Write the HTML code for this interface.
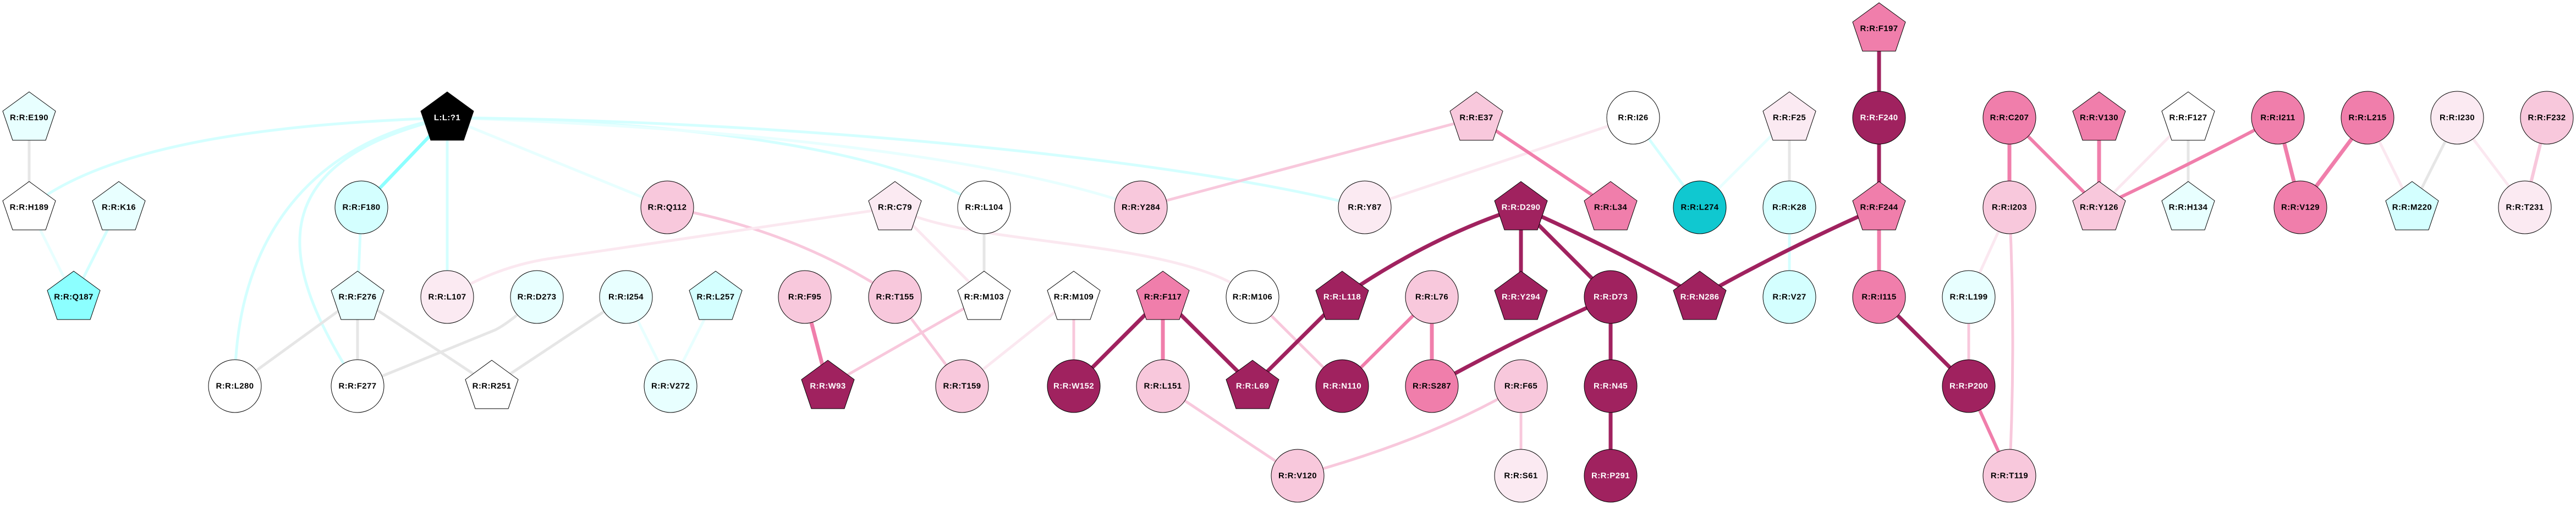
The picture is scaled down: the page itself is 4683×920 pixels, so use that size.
<!DOCTYPE html>
<html><head><meta charset="utf-8"><style>
html,body{margin:0;padding:0;background:#fff;}
svg{display:block;}
text{font-family:"Liberation Sans",sans-serif;font-weight:bold;font-size:15px;letter-spacing:0.4px;text-anchor:middle;dominant-baseline:central;}
</style></head><body>
<svg width="4683" height="920" viewBox="0 0 4683 920" xmlns="http://www.w3.org/2000/svg">
<defs>
<polygon id="pg" points="0,-47 48,-12 30,41 -30,41 -48,-12"/>
</defs>
<g fill="none" stroke-linecap="butt">
<!-- cyan edges -->
<path d="M813,214 C500,225 200,260 53,377" stroke="#d4ffff" stroke-width="5"/>
<path d="M813,214 C600,250 427,400 427,702" stroke="#d4ffff" stroke-width="5"/>
<path d="M813,214 C450,300 520,500 650,702" stroke="#d4ffff" stroke-width="5"/>
<path d="M813,214 L657,377" stroke="#8cffff" stroke-width="6"/>
<path d="M813,214 L813,540" stroke="#d4ffff" stroke-width="5"/>
<path d="M813,214 L1213,377" stroke="#e8ffff" stroke-width="5"/>
<path d="M813,214 C1200,220 1600,260 1789,377" stroke="#d4ffff" stroke-width="5"/>
<path d="M813,214 C1300,230 1800,280 2074,377" stroke="#e8ffff" stroke-width="5"/>
<path d="M813,214 C1500,220 2200,300 2481,377" stroke="#d4ffff" stroke-width="5"/>
<path d="M657,377 L650,540" stroke="#d4ffff" stroke-width="5"/>
<path d="M53,377 L134,540" stroke="#e8ffff" stroke-width="5"/>
<path d="M216,377 L134,540" stroke="#d4ffff" stroke-width="5"/>
<path d="M1138,540 L1219,702" stroke="#e8ffff" stroke-width="5"/>
<path d="M1301,540 L1219,702" stroke="#e8ffff" stroke-width="5"/>
<path d="M2969,214 L3090,377" stroke="#d4ffff" stroke-width="5"/>
<path d="M3253,214 L3090,377" stroke="#e8ffff" stroke-width="5"/>
<path d="M3253,377 L3253,540" stroke="#d4ffff" stroke-width="5"/>
<!-- gray edges -->
<path d="M53,214 L53,377" stroke="#e6e6e6" stroke-width="5"/>
<path d="M650,540 L427,702" stroke="#e6e6e6" stroke-width="5"/>
<path d="M650,540 L650,702" stroke="#e6e6e6" stroke-width="5"/>
<path d="M650,540 L894,702" stroke="#e6e6e6" stroke-width="5"/>
<path d="M650,702 L900,600 Q930,585 976,540" stroke="#e6e6e6" stroke-width="5"/>
<path d="M1138,540 L894,702" stroke="#e6e6e6" stroke-width="5"/>
<path d="M1789,377 L1789,540" stroke="#e6e6e6" stroke-width="5"/>
<path d="M3253,214 L3253,377" stroke="#e6e6e6" stroke-width="5"/>
<path d="M3978,214 L3978,377" stroke="#e6e6e6" stroke-width="5"/>
<path d="M4467,214 L4385,377" stroke="#e6e6e6" stroke-width="5"/>
<!-- pink edges -->
<path d="M1213,377 Q1450,420 1627,540" stroke="#f8c8dc" stroke-width="5"/>
<path d="M1627,377 L1000,470 Q900,485 813,540" stroke="#fbe8f0" stroke-width="5"/>
<path d="M1627,377 L1789,540" stroke="#fbe8f0" stroke-width="5"/>
<path d="M1627,377 C1750,450 2150,430 2277,540" stroke="#fbe8f0" stroke-width="5"/>
<path d="M1789,540 L1505,702" stroke="#f8c8dc" stroke-width="5"/>
<path d="M1627,540 L1749,702" stroke="#f8c8dc" stroke-width="5"/>
<path d="M1952,540 L1749,702" stroke="#fbe8f0" stroke-width="5"/>
<path d="M1952,540 L1952,702" stroke="#f8c8dc" stroke-width="5"/>
<path d="M1463,540 L1505,702" stroke="#f07eab" stroke-width="7"/>
<path d="M2114,540 L1952,702" stroke="#a0225f" stroke-width="7"/>
<path d="M2114,540 L2114,702" stroke="#f07eab" stroke-width="7"/>
<path d="M2114,540 L2277,702" stroke="#a0225f" stroke-width="7"/>
<path d="M2277,540 L2440,702" stroke="#f8c8dc" stroke-width="5"/>
<path d="M2440,540 L2277,702" stroke="#a0225f" stroke-width="7"/>
<path d="M2114,702 L2359,865" stroke="#f8c8dc" stroke-width="5"/>
<path d="M2074,377 L2684,214" stroke="#f8c8dc" stroke-width="5"/>
<path d="M2481,377 L2969,214" stroke="#fbe8f0" stroke-width="5"/>
<path d="M2684,214 L2928,377" stroke="#f07eab" stroke-width="6"/>
<path d="M2765,377 Q2600,430 2440,540" stroke="#a0225f" stroke-width="7"/>
<path d="M2765,377 L2765,540" stroke="#a0225f" stroke-width="7"/>
<path d="M2765,377 L2928,540" stroke="#a0225f" stroke-width="7"/>
<path d="M2765,377 Q2930,450 3090,540" stroke="#a0225f" stroke-width="7"/>
<path d="M2603,540 L2440,702" stroke="#f07eab" stroke-width="6"/>
<path d="M2603,540 L2603,702" stroke="#f07eab" stroke-width="7"/>
<path d="M2928,540 Q2750,620 2603,702" stroke="#a0225f" stroke-width="7"/>
<path d="M2928,540 L2928,865" stroke="#a0225f" stroke-width="7"/>
<path d="M2765,702 Q2600,800 2359,865" stroke="#f8c8dc" stroke-width="5"/>
<path d="M2765,702 L2765,865" stroke="#f8c8dc" stroke-width="5"/>
<path d="M3090,540 Q3250,450 3416,377" stroke="#a0225f" stroke-width="7"/>
<path d="M3416,52 L3416,377" stroke="#a0225f" stroke-width="7"/>
<path d="M3416,377 L3416,540" stroke="#f07eab" stroke-width="7"/>
<path d="M3416,540 L3579,702" stroke="#a0225f" stroke-width="7"/>
<path d="M3579,540 L3579,702" stroke="#f8c8dc" stroke-width="5"/>
<path d="M3579,702 L3653,865" stroke="#f07eab" stroke-width="6"/>
<path d="M3653,214 L3653,377" stroke="#f07eab" stroke-width="7"/>
<path d="M3653,214 L3816,377" stroke="#f07eab" stroke-width="6"/>
<path d="M3816,214 L3816,377" stroke="#f07eab" stroke-width="7"/>
<path d="M3653,377 L3579,540" stroke="#fbe8f0" stroke-width="5"/>
<path d="M3653,377 Q3665,620 3653,865" stroke="#f8c8dc" stroke-width="5"/>
<path d="M3978,214 L3816,377" stroke="#fbe8f0" stroke-width="5"/>
<path d="M4141,214 Q4000,290 3816,377" stroke="#f07eab" stroke-width="6"/>
<path d="M4141,214 L4182,377" stroke="#f07eab" stroke-width="7"/>
<path d="M4304,214 L4182,377" stroke="#f07eab" stroke-width="7"/>
<path d="M4304,214 L4385,377" stroke="#fbe8f0" stroke-width="5"/>
<path d="M4467,214 L4590,377" stroke="#fbe8f0" stroke-width="5"/>
<path d="M4630,214 L4590,377" stroke="#f8c8dc" stroke-width="6"/>
</g>
<g stroke="#000" stroke-width="1">
<!-- pentagons -->
<use href="#pg" x="813" y="214" fill="#000"/>
<use href="#pg" x="53" y="214" fill="#e8ffff"/>
<use href="#pg" x="53" y="377" fill="#fff"/>
<use href="#pg" x="216" y="377" fill="#e8ffff"/>
<use href="#pg" x="134" y="540" fill="#8cffff"/>
<use href="#pg" x="650" y="540" fill="#e8ffff"/>
<use href="#pg" x="894" y="702" fill="#fff"/>
<use href="#pg" x="1301" y="540" fill="#d4ffff"/>
<use href="#pg" x="1505" y="702" fill="#a0225f"/>
<use href="#pg" x="1627" y="377" fill="#fbeaf2"/>
<use href="#pg" x="1789" y="540" fill="#fff"/>
<use href="#pg" x="1952" y="540" fill="#fff"/>
<use href="#pg" x="2114" y="540" fill="#f07eab"/>
<use href="#pg" x="2277" y="702" fill="#a0225f"/>
<use href="#pg" x="2684" y="214" fill="#f8c8dc"/>
<use href="#pg" x="2765" y="377" fill="#a0225f"/>
<use href="#pg" x="2928" y="377" fill="#f07eab"/>
<use href="#pg" x="2440" y="540" fill="#a0225f"/>
<use href="#pg" x="2765" y="540" fill="#a0225f"/>
<use href="#pg" x="3090" y="540" fill="#a0225f"/>
<use href="#pg" x="3416" y="52" fill="#f07eab"/>
<use href="#pg" x="3253" y="214" fill="#fbeaf2"/>
<use href="#pg" x="3416" y="377" fill="#f07eab"/>
<use href="#pg" x="3816" y="214" fill="#f07eab"/>
<use href="#pg" x="3978" y="214" fill="#fff"/>
<use href="#pg" x="3816" y="377" fill="#f8c8dc"/>
<use href="#pg" x="3978" y="377" fill="#e8ffff"/>
<use href="#pg" x="4385" y="377" fill="#d4ffff"/>
<!-- ellipses -->
<circle cx="657" cy="377" r="48" fill="#d4ffff"/>
<circle cx="427" cy="702" r="48" fill="#fff"/>
<circle cx="650" cy="702" r="48" fill="#fff"/>
<circle cx="1213" cy="377" r="48" fill="#f8c8dc"/>
<circle cx="813" cy="540" r="48" fill="#fbeaf2"/>
<circle cx="976" cy="540" r="48" fill="#e8ffff"/>
<circle cx="1138" cy="540" r="48" fill="#e8ffff"/>
<circle cx="1463" cy="540" r="48" fill="#f8c8dc"/>
<circle cx="1219" cy="702" r="48" fill="#e8ffff"/>
<circle cx="1789" cy="377" r="48" fill="#fff"/>
<circle cx="2074" cy="377" r="48" fill="#f8c8dc"/>
<circle cx="1627" cy="540" r="48" fill="#f8c8dc"/>
<circle cx="2277" cy="540" r="48" fill="#fff"/>
<circle cx="1749" cy="702" r="48" fill="#f8c8dc"/>
<circle cx="1952" cy="702" r="48" fill="#a0225f"/>
<circle cx="2114" cy="702" r="48" fill="#f8c8dc"/>
<circle cx="2359" cy="865" r="48" fill="#f8c8dc"/>
<circle cx="2969" cy="214" r="48" fill="#fff"/>
<circle cx="2481" cy="377" r="48" fill="#fbeaf2"/>
<circle cx="3090" cy="377" r="48" fill="#10c8d0"/>
<circle cx="2603" cy="540" r="48" fill="#f8c8dc"/>
<circle cx="2928" cy="540" r="48" fill="#a0225f"/>
<circle cx="2440" cy="702" r="48" fill="#a0225f"/>
<circle cx="2603" cy="702" r="48" fill="#f07eab"/>
<circle cx="2765" cy="702" r="48" fill="#f8c8dc"/>
<circle cx="2928" cy="702" r="48" fill="#a0225f"/>
<circle cx="2765" cy="865" r="48" fill="#fbeaf2"/>
<circle cx="2928" cy="865" r="48" fill="#a0225f"/>
<circle cx="3416" cy="214" r="48" fill="#a0225f"/>
<circle cx="3653" cy="214" r="48" fill="#f07eab"/>
<circle cx="3253" cy="377" r="48" fill="#d4ffff"/>
<circle cx="3653" cy="377" r="48" fill="#f8c8dc"/>
<circle cx="3253" cy="540" r="48" fill="#d4ffff"/>
<circle cx="3416" cy="540" r="48" fill="#f07eab"/>
<circle cx="3579" cy="540" r="48" fill="#e8ffff"/>
<circle cx="3579" cy="702" r="48" fill="#a0225f"/>
<circle cx="3653" cy="865" r="48" fill="#f8c8dc"/>
<circle cx="4141" cy="214" r="48" fill="#f07eab"/>
<circle cx="4304" cy="214" r="48" fill="#f07eab"/>
<circle cx="4467" cy="214" r="48" fill="#fbeaf2"/>
<circle cx="4630" cy="214" r="48" fill="#f8c8dc"/>
<circle cx="4182" cy="377" r="48" fill="#f07eab"/>
<circle cx="4590" cy="377" r="48" fill="#fbeaf2"/>
</g>
<g fill="#000">
<text x="53" y="214">R:R:E190</text>
<text x="53" y="377">R:R:H189</text>
<text x="216" y="377">R:R:K16</text>
<text x="134" y="540">R:R:Q187</text>
<text x="650" y="540">R:R:F276</text>
<text x="894" y="702">R:R:R251</text>
<text x="1301" y="540">R:R:L257</text>
<text x="1627" y="377">R:R:C79</text>
<text x="1789" y="540">R:R:M103</text>
<text x="1952" y="540">R:R:M109</text>
<text x="2114" y="540">R:R:F117</text>
<text x="2684" y="214">R:R:E37</text>
<text x="2928" y="377">R:R:L34</text>
<text x="3416" y="52">R:R:F197</text>
<text x="3253" y="214">R:R:F25</text>
<text x="3416" y="377">R:R:F244</text>
<text x="3816" y="214">R:R:V130</text>
<text x="3978" y="214">R:R:F127</text>
<text x="3816" y="377">R:R:Y126</text>
<text x="3978" y="377">R:R:H134</text>
<text x="4385" y="377">R:R:M220</text>
<text x="657" y="377">R:R:F180</text>
<text x="427" y="702">R:R:L280</text>
<text x="650" y="702">R:R:F277</text>
<text x="1213" y="377">R:R:Q112</text>
<text x="813" y="540">R:R:L107</text>
<text x="976" y="540">R:R:D273</text>
<text x="1138" y="540">R:R:I254</text>
<text x="1463" y="540">R:R:F95</text>
<text x="1219" y="702">R:R:V272</text>
<text x="1789" y="377">R:R:L104</text>
<text x="2074" y="377">R:R:Y284</text>
<text x="1627" y="540">R:R:T155</text>
<text x="2277" y="540">R:R:M106</text>
<text x="1749" y="702">R:R:T159</text>
<text x="2114" y="702">R:R:L151</text>
<text x="2359" y="865">R:R:V120</text>
<text x="2969" y="214">R:R:I26</text>
<text x="2481" y="377">R:R:Y87</text>
<text x="3090" y="377">R:R:L274</text>
<text x="2603" y="540">R:R:L76</text>
<text x="2603" y="702">R:R:S287</text>
<text x="2765" y="702">R:R:F65</text>
<text x="2765" y="865">R:R:S61</text>
<text x="3653" y="214">R:R:C207</text>
<text x="3253" y="377">R:R:K28</text>
<text x="3653" y="377">R:R:I203</text>
<text x="3253" y="540">R:R:V27</text>
<text x="3416" y="540">R:R:I115</text>
<text x="3579" y="540">R:R:L199</text>
<text x="3653" y="865">R:R:T119</text>
<text x="4141" y="214">R:R:I211</text>
<text x="4304" y="214">R:R:L215</text>
<text x="4467" y="214">R:R:I230</text>
<text x="4630" y="214">R:R:F232</text>
<text x="4182" y="377">R:R:V129</text>
<text x="4590" y="377">R:R:T231</text>
</g>
<g fill="#fff">
<text x="813" y="214">L:L:?1</text>
<text x="1505" y="702">R:R:W93</text>
<text x="2277" y="702">R:R:L69</text>
<text x="2765" y="377">R:R:D290</text>
<text x="2440" y="540">R:R:L118</text>
<text x="2765" y="540">R:R:Y294</text>
<text x="3090" y="540">R:R:N286</text>
<text x="1952" y="702">R:R:W152</text>
<text x="2928" y="540">R:R:D73</text>
<text x="2440" y="702">R:R:N110</text>
<text x="2928" y="702">R:R:N45</text>
<text x="2928" y="865">R:R:P291</text>
<text x="3416" y="214">R:R:F240</text>
<text x="3579" y="702">R:R:P200</text>
</g>
</svg>
</body></html>
